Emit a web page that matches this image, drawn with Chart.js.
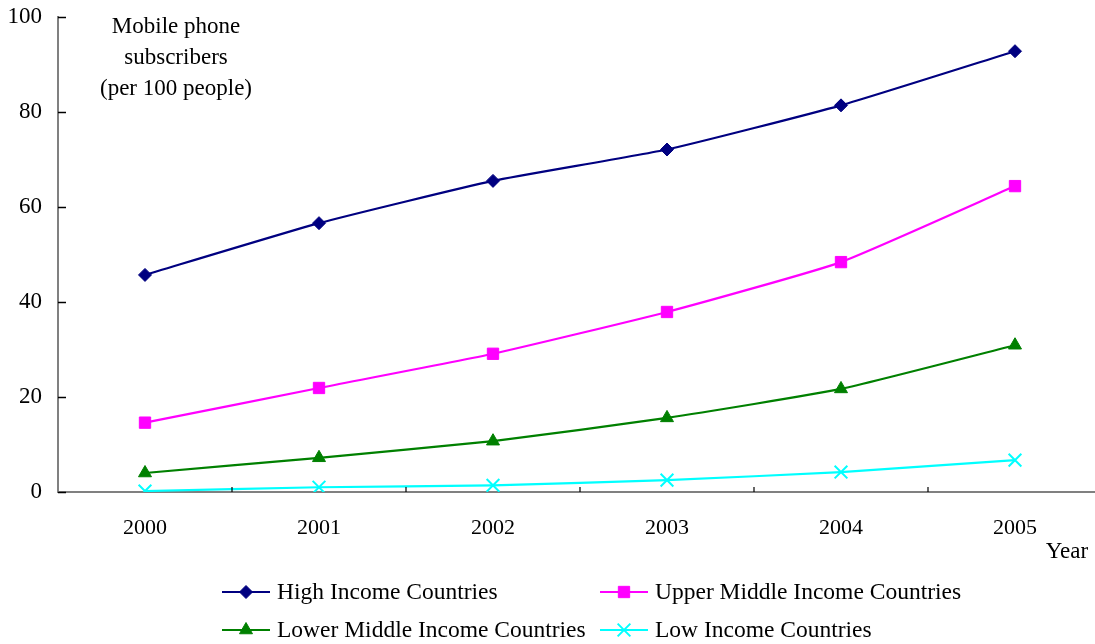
<!DOCTYPE html>
<html><head><meta charset="utf-8">
<script src="https://cdn.jsdelivr.net/npm/chart.js@4.4.1/dist/chart.umd.min.js"></script>
<style>
html,body{margin:0;padding:0;background:#fff;overflow:hidden;}
canvas{display:block;}
</style></head>
<body><canvas id="c" width="1113" height="644"></canvas>
<script>
const years = ['2000','2001','2002','2003','2004','2005'];
const highIncome = [45.7, 56.6, 65.5, 72.1, 81.4, 92.8];
const upperMiddle = [14.6, 21.9, 29.1, 37.9, 48.4, 64.4];
const lowerMiddle = [4.0, 7.2, 10.7, 15.6, 21.7, 30.9];
const lowIncome = [0.2, 1.0, 1.4, 2.5, 4.2, 6.7];
const yTicks = [0, 20, 40, 60, 80, 100];
const titleLines = ['Mobile phone', 'subscribers', '(per 100 people)'];
const xAxisTitle = 'Year';
const seriesNames = ['High Income Countries','Upper Middle Income Countries','Lower Middle Income Countries','Low Income Countries'];

const FONT = '"Liberation Serif", "Times New Roman", serif';

const decor = {
  id: 'decor',
  afterDraw(chart) {
    const ctx = chart.ctx;
    const x = chart.scales.x, y = chart.scales.y;
    const ca = chart.chartArea;
    ctx.save();
    ctx.strokeStyle = '#000'; ctx.lineWidth = 1.5;
    yTicks.forEach(v => {
      const py = Math.round(y.getPixelForValue(v)) + 0.5;
      ctx.beginPath(); ctx.moveTo(ca.left, py); ctx.lineTo(ca.left + 8, py); ctx.stroke();
    });
    ctx.lineWidth = 1.2;
    for (let i = 1; i < years.length; i++) {
      const px = (x.getPixelForValue(i - 1) + x.getPixelForValue(i)) / 2;
      ctx.beginPath(); ctx.moveTo(px, ca.bottom); ctx.lineTo(px, ca.bottom - 5); ctx.stroke();
    }
    ctx.fillStyle = '#000';
    ctx.font = '23px ' + FONT;
    ctx.textAlign = 'center'; ctx.textBaseline = 'middle';
    titleLines.forEach((t, i) => ctx.fillText(t, 176, 27 + i * 31));
    ctx.fillText(xAxisTitle, 1067, 552);
    ctx.font = '23.5px ' + FONT;
    const pos = [[222, 592], [600, 592], [222, 630], [600, 630]];
    chart.data.datasets.forEach((ds, i) => {
      const [lx, ly] = pos[i];
      ctx.strokeStyle = ds.borderColor; ctx.lineWidth = 2;
      ctx.beginPath(); ctx.moveTo(lx, ly); ctx.lineTo(lx + 48, ly); ctx.stroke();
      ctx.fillStyle = ds.pointBackgroundColor; ctx.strokeStyle = ds.pointBorderColor;
      ctx.lineWidth = ds.pointBorderWidth;
      Chart.helpers.drawPoint(ctx, {
        pointStyle: ds.pointStyle, radius: ds.pointRadius, borderWidth: ds.pointBorderWidth, rotation: 0
      }, lx + 24, ly);
      ctx.fillStyle = '#000';
      ctx.textAlign = 'left';
      ctx.fillText(ds.label, lx + 55, ly + 1);
    });
    ctx.restore();
  }
};

function mk(label, data, color, style, radius, bw) {
  return {
    label, data, borderColor: color, backgroundColor: color,
    pointBackgroundColor: color, pointBorderColor: color,
    pointStyle: style, pointRadius: radius, pointHoverRadius: radius,
    pointBorderWidth: bw, borderWidth: 2.2, tension: 0.15, fill: false
  };
}

const chart = new Chart(document.getElementById('c'), {
  type: 'line',
  data: {
    labels: years,
    datasets: [
      mk(seriesNames[0], highIncome, '#000080', 'rectRot', 6.5, 1),
      mk(seriesNames[1], upperMiddle, '#FF00FF', 'rect', 8, 1),
      mk(seriesNames[2], lowerMiddle, '#008000', 'triangle', 7.5, 1),
      mk(seriesNames[3], lowIncome, '#00FFFF', 'crossRot', 9, 2)
    ]
  },
  options: {
    responsive: false, animation: false,
    layout: { padding: { top: 17, left: 0, right: 2, bottom: 0 } },
    plugins: { legend: { display: false }, tooltip: { enabled: false } },
    scales: {
      x: {
        offset: true,
        grid: { display: false, drawTicks: false },
        border: { display: true, color: '#808080', width: 2 },
        ticks: { color: '#000', font: { family: FONT, size: 22 }, padding: 23, maxRotation: 0 },
        afterFit(s) { s.height = 152; s.paddingLeft = 0; s.paddingRight = 0; }
      },
      y: {
        min: 0, max: 100,
        grid: { display: false, drawTicks: false },
        border: { display: true, color: '#808080', width: 2 },
        ticks: { stepSize: 20, color: '#000', font: { family: FONT, size: 23 }, padding: 16 },
        afterFit(s) { s.width = 58; s.paddingTop = 0; s.paddingBottom = 0; }
      }
    }
  },
  plugins: [decor]
});
</script>
</body></html>
